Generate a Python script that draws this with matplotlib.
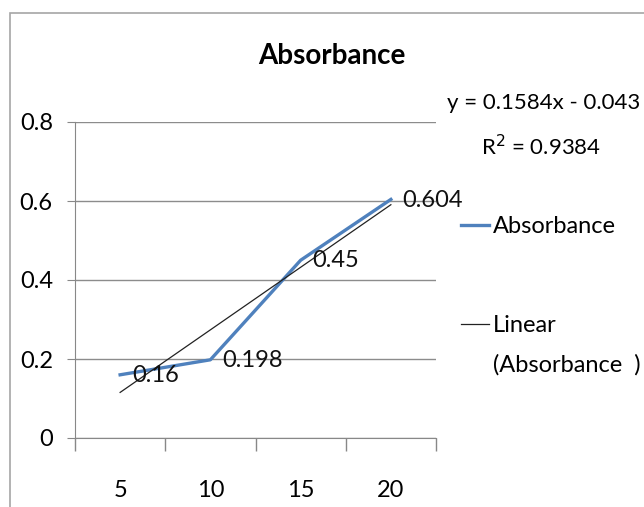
import matplotlib
matplotlib.use("Agg")
import matplotlib.pyplot as plt
from matplotlib.patches import Rectangle
import numpy as np

categories = ["5", "10", "15", "20"]
absorbance = [0.16, 0.198, 0.45, 0.604]
slope = 0.1584
intercept = -0.043
r2 = 0.9384

plt.rcParams['font.family'] = ['Lato', 'DejaVu Sans']

W, H = 644, 507
fig = plt.figure(figsize=(W / 100, H / 100), dpi=100)

# chart frame like Excel (runs off right and bottom)
fig.patches.append(Rectangle((10 / W, -0.2), 1.2, 1.2 - 13 / H, transform=fig.transFigure,
                             fill=False, edgecolor='#a6a6a6', linewidth=1.2))

ax = fig.add_axes([75 / W, 1 - 438 / H, (436 - 75) / W, (438 - 122) / H])

x = np.arange(1, len(categories) + 1)
ax.plot(x, absorbance, color='#4f81bd', linewidth=2.4, label='Absorbance')
trend = slope * x + intercept
ax.plot(x, trend, color='#222222', linewidth=0.9, label='Linear')

for xi, yi in zip(x, absorbance):
    ax.annotate(f"{yi:g}", (xi, yi), xytext=(8.5, -0.5), textcoords='offset points',
                ha='left', va='center', fontsize=17, color='#111111')

ax.set_xlim(0.5, 4.5)
ax.set_ylim(0, 0.8)
ax.set_yticks([0, 0.2, 0.4, 0.6, 0.8])
ax.set_yticklabels(["0", "0.2", "0.4", "0.6", "0.8"])
ax.set_xticks(x)
ax.set_xticklabels(categories)
ax.set_xticks([0.5, 1.5, 2.5, 3.5, 4.5], minor=True)
ax.tick_params(axis='x', which='major', length=0, labelsize=17, pad=30)
ax.tick_params(axis='x', which='minor', length=9, color='#888888', width=1)
ax.tick_params(axis='y', length=6, color='#888888', labelsize=17, pad=10)
ax.grid(axis='y', color='#8c8c8c', linewidth=1)
ax.set_axisbelow(True)
for s in ['top', 'right']:
    ax.spines[s].set_visible(False)
ax.spines['left'].set_color('#888888')
ax.spines['bottom'].set_color('#888888')

fig.text(332 / W, 1 - 56 / H, "Absorbance", ha='center', va='center',
         fontsize=20, fontweight='bold')
fig.text(447 / W, 1 - 103 / H, "y = 0.1584x - 0.043", ha='left', va='center', fontsize=16)
fig.text(541 / W, 1 - 147 / H, f"R$^2$ = {r2}", ha='center', va='center', fontsize=16)

leg = ax.legend(loc='upper left', bbox_to_anchor=(461 / W, 1 - 216 / H),
                bbox_transform=fig.transFigure, frameon=False, fontsize=17,
                handlelength=1.2, handletextpad=0.15, labelspacing=3.3,
                borderpad=0, borderaxespad=0)
fig.text(493 / W, 1 - 365 / H, "(Absorbance  )", ha='left', va='center', fontsize=17)

fig.savefig("out.png", dpi=100)
